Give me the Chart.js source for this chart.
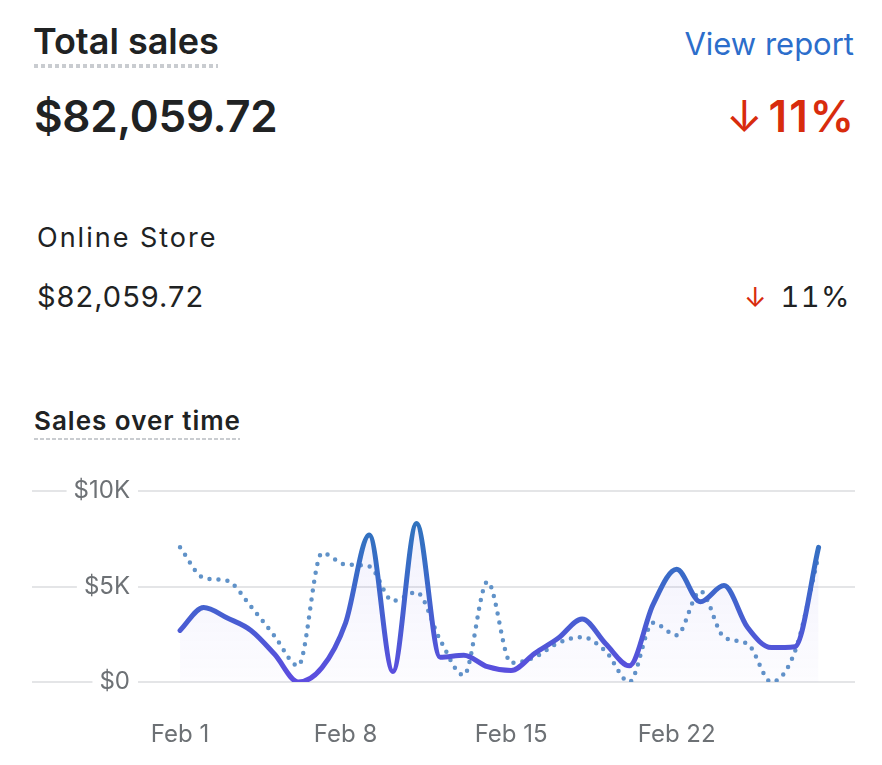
<!DOCTYPE html>
<html>
<head>
<meta charset="utf-8">
<script src="https://cdn.jsdelivr.net/npm/chart.js@4/dist/chart.umd.min.js"></script>
<style>
  html, body { margin: 0; padding: 0; background: #fff; }
  body { width: 882px; height: 765px; position: relative; overflow: hidden; font-family: Inter, "Noto Sans", sans-serif; color: #202223; }
  .t { position: absolute; white-space: nowrap; line-height: 1; }
  #title { left: 33px; top: 23px; font-size: 36px; font-weight: 600; }
  #titleLine { position: absolute; left: 34px; top: 64px; width: 184px; height: 4px;
    background-image: linear-gradient(to right, #c9ccd0 0 4px, transparent 4px 7px); background-size: 7px 4px; }
  #total { left: 34px; top: 94px; font-size: 44px; font-weight: 600; letter-spacing: -0.3px; }
  #view { right: 28px; top: 28px; font-size: 31px; color: #2c6ecb; }
  #bigPct { right: 26px; top: 94px; font-size: 44px; font-weight: 600; color: #d82c0d; letter-spacing: 2px; }
  #bigPct .ar { font-weight: 400; font-size: 44px; margin-right: 6px; letter-spacing: 0; }
  #store { left: 37px; top: 224px; font-size: 27px; letter-spacing: 2px; }
  #storeVal { left: 37px; top: 282px; font-size: 29px; letter-spacing: 1px; }
  #smallPct { right: 31px; top: 282px; font-size: 29px; font-feature-settings: "tnum"; letter-spacing: 1.5px; }
  #smallPct .ar { color: #d82c0d; font-size: 27px; margin-right: 14px; letter-spacing: 0; }
  #sot { left: 34px; top: 408px; font-size: 26px; font-weight: 600; letter-spacing: 1px; }
  #sotLine { position: absolute; left: 34px; top: 438px; width: 206px; height: 2px;
    background-image: linear-gradient(to right, #c9ccd0 0 4px, transparent 4px 6px); background-size: 6px 2px; }
  #wrap { position: absolute; left: 0; top: 450px; width: 882px; height: 315px; }
</style>
</head>
<body>
<div class="t" id="title">Total sales</div>
<div id="titleLine"></div>
<div class="t" id="total">$82,059.72</div>
<div class="t" id="view">View report</div>
<div class="t" id="bigPct"><span class="ar">↓</span>11%</div>
<div class="t" id="store">Online Store</div>
<div class="t" id="storeVal">$82,059.72</div>
<div class="t" id="smallPct"><span class="ar">↓</span>11%</div>
<div class="t" id="sot">Sales over time</div>
<div id="sotLine"></div>
<div id="wrap"><canvas id="c"></canvas></div>
<script>
// ---- data ----
const days = ['Feb 1','Feb 2','Feb 3','Feb 4','Feb 5','Feb 6','Feb 7','Feb 8','Feb 9','Feb 10','Feb 11','Feb 12','Feb 13','Feb 14',
  'Feb 15','Feb 16','Feb 17','Feb 18','Feb 19','Feb 20','Feb 21','Feb 22','Feb 23','Feb 24','Feb 25','Feb 26','Feb 27','Feb 28'];
const currentSales = [2700,3900,3350,2700,1450,0,750,3100,7700,550,8300,1300,1400,800,
  600,1500,2300,3300,2000,850,4050,5900,4200,5050,2850,1800,1850,7050];
const previousSales = [7050,5450,5300,3950,2400,850,6750,6150,6050,4250,4700,2200,350,5250,
  1000,1300,2050,2350,1600,0,3100,2450,4750,2350,2000,0,1600,6600];
const xTickIndices = [0,7,14,21];
const yTickValues = [0,5000,10000];
const yTickLabels = ['$0','$5K','$10K'];

const tickFont = { family: 'Inter', size: 24 };
const mctx = document.createElement('canvas').getContext('2d');
mctx.font = '24px Inter';
const widest = Math.max(...yTickLabels.map(s => mctx.measureText(s).width));
const labelRight = 130 - 32;

function solidGradient(ctx) {
  const ca = ctx.chart.chartArea;
  if (!ca) return '#4b5fd0';
  const g = ctx.chart.ctx.createLinearGradient(0, ca.top, 0, ca.bottom);
  g.addColorStop(0, '#2a78b8');
  g.addColorStop(0.45, '#3a6ac8');
  g.addColorStop(1, '#5d4ce0');
  return g;
}
function fillGradient(ctx) {
  const ca = ctx.chart.chartArea;
  if (!ca) return 'rgba(100,90,230,0.05)';
  const g = ctx.chart.ctx.createLinearGradient(0, ca.top, 0, ca.bottom);
  g.addColorStop(0, 'rgba(110,100,230,0.10)');
  g.addColorStop(1, 'rgba(110,100,230,0.02)');
  return g;
}

new Chart(document.getElementById('c'), {
  type: 'line',
  data: {
    labels: days,
    datasets: [
      {
        label: 'Current',
        data: currentSales.map((v, i) => ({ x: i, y: v })),
        borderColor: solidGradient,
        backgroundColor: fillGradient,
        fill: 'origin',
        borderWidth: 5,
        cubicInterpolationMode: 'monotone',
        pointRadius: 0,
        borderCapStyle: 'round'
      },
      {
        label: 'Previous',
        data: previousSales.map((v, i) => ({ x: i, y: v })),
        borderColor: '#6092c8',
        borderWidth: 4.5,
        borderDash: [0, 9],
        borderCapStyle: 'round',
        fill: false,
        cubicInterpolationMode: 'monotone',
        pointRadius: 0
      }
    ]
  },
  options: {
    responsive: true,
    maintainAspectRatio: false,
    animation: false,
    layout: { padding: { left: 32, right: 27, top: 41, bottom: 0 } },
    plugins: { legend: { display: false }, tooltip: { enabled: false } },
    scales: {
      x: {
        type: 'linear',
        min: -6.26,
        max: 28.54,
        grid: { display: false, drawTicks: false },
        border: { display: false },
        afterBuildTicks: s => { s.ticks = xTickIndices.map(v => ({ value: v })); },
        afterFit: s => { s.height = 83; s.paddingLeft = 0; s.paddingRight = 0; },
        ticks: {
          font: tickFont,
          color: '#6d7175',
          padding: 38,
          maxRotation: 0,
          autoSkip: false,
          callback: v => days[v]
        }
      },
      y: {
        min: 0,
        max: 10000,
        afterBuildTicks: s => { s.ticks = yTickValues.map(v => ({ value: v })); },
        afterFit: s => { s.width = 0; s.paddingTop = 14; s.paddingBottom = 0; },
        grid: { color: '#e4e5e7', lineWidth: 2, drawTicks: false },
        border: { display: false },
        ticks: {
          mirror: true,
          crossAlign: 'far',
          padding: labelRight - widest,
          font: tickFont,
          color: '#6d7175',
          showLabelBackdrop: true,
          backdropColor: '#ffffff',
          backdropPadding: { left: 7, right: 8, top: 2, bottom: 2 },
          callback: v => yTickLabels[yTickValues.indexOf(v)]
        }
      }
    }
  }
});
</script>
</body>
</html>
